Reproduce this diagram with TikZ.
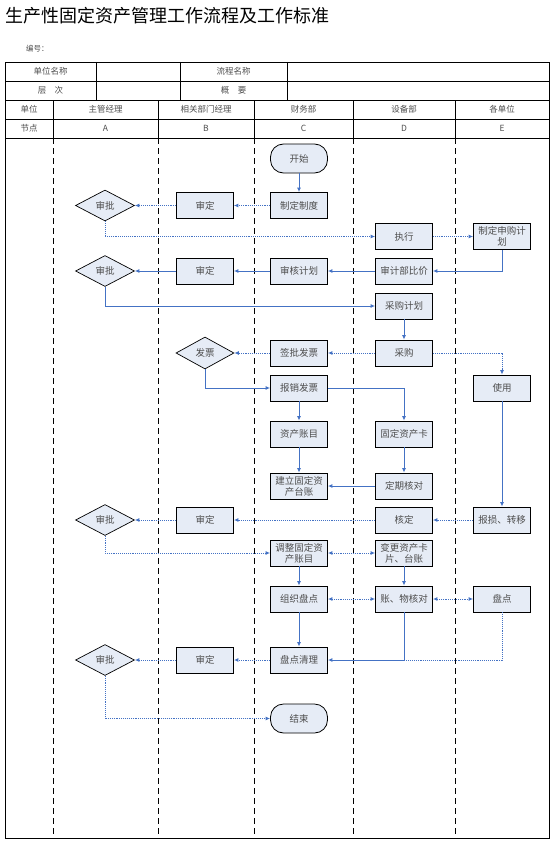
\documentclass[tikz,border=0pt]{standalone}
\usepackage{fontspec}
\setmainfont{Noto Sans CJK SC}
\usetikzlibrary{shapes.geometric,arrows.meta}
\definecolor{boxfill}{HTML}{E6ECF6}
\definecolor{linkblue}{HTML}{4472C4}
\definecolor{txtgray}{HTML}{4D4D4D}

\begin{document}
\begin{tikzpicture}[x=1pt, y=-1pt, >={Latex[length=4.5pt,width=4pt]},
    box/.style={draw=black, line width=0.8pt, fill=boxfill, minimum width=57pt,
      minimum height=26pt, inner sep=1pt, align=center, text=txtgray,
      font=\fontsize{9.5}{11}\selectfont},
    decide/.style={diamond, draw=black, line width=0.7pt, fill=boxfill,
      minimum width=59pt, minimum height=31pt, inner sep=0pt, text=txtgray,
      font=\fontsize{9.5}{11}\selectfont},
    terminal/.style={rectangle, rounded corners=13pt, draw=black, line width=0.8pt,
      fill=boxfill, minimum width=57pt, minimum height=29pt, text=txtgray,
      font=\fontsize{9.5}{11}\selectfont},
    flow/.style={->, linkblue, line width=0.9pt},
    flowdot/.style={flow, densely dotted},
    lane/.style={line width=0.8pt, dash pattern=on 6pt off 4pt},
    grid/.style={line width=0.6pt},
    head/.style={text=txtgray, font=\fontsize{8.5}{10}\selectfont}]

    \useasboundingbox (0,0) rectangle (553,843);

    % 1. Tiêu đề
    \node[anchor=west, inner sep=0pt, font=\fontsize{18}{20}\selectfont] (title)
      at (5,16) {生产性固定资产管理工作流程及工作标准};
    \node[anchor=west, inner sep=0pt, head, font=\fontsize{7.5}{9}\selectfont] (code)
      at (26,49) {编号：};

    % 2. Khung bảng
    \draw[grid] (5,62) rectangle (549,838);
    \foreach \y in {81,100,119,138}
      \draw[grid] (5,\y) -- (549,\y);
    \foreach \x in {96,180,287}
      \draw[grid] (\x,62) -- (\x,100);
    \foreach \x in {53,158,254,353,455}
      \draw[grid] (\x,100) -- (\x,138);

    % 3. Các làn dọc
    \foreach \x in {53,158,254,353,455}
      \draw[lane] (\x,138) -- (\x,838);

    % 4. Chữ tiêu đề bảng
    \node[head] (hname) at (50.5,71.5) {单位名称};
    \node[head] (hflow) at (233.5,71.5) {流程名称};
    \node[head] (hlevel) at (50.5,90.5) {层\quad 次};
    \node[head] (hsum) at (233.5,90.5) {概\quad 要};
    \node[head] (hunit) at (29,109.5) {单位};
    \node[head] (hA) at (105.5,109.5) {主管经理};
    \node[head] (hB) at (206,109.5) {相关部门经理};
    \node[head] (hC) at (303.5,109.5) {财务部};
    \node[head] (hD) at (404,109.5) {设备部};
    \node[head] (hE) at (502,109.5) {各单位};
    \node[head] (hnode) at (29,128.5) {节点};
    \node[head] (nA) at (105.5,128.5) {A};
    \node[head] (nB) at (206,128.5) {B};
    \node[head] (nC) at (303.5,128.5) {C};
    \node[head] (nD) at (404,128.5) {D};
    \node[head] (nE) at (502,128.5) {E};

    % 5. Các bước
    \node[terminal] (start) at (299,158.5) {开始};
    \node[box] (zdzd) at (299,205.5) {制定制度};
    \node[box] (sd1) at (205,205.5) {审定};
    \node[decide] (sp1) at (105,205.5) {审批};
    \node[box] (zx) at (404,236.5) {执行};
    \node[box] (sgjh) at (502,236.5) {制定申购计\\划};
    \node[box] (shjh) at (299,271) {审核计划};
    \node[box] (sjbj) at (404,271) {审计部比价};
    \node[box] (sd2) at (205,271) {审定};
    \node[decide] (sp2) at (105,271) {审批};
    \node[box] (cgjh) at (404,306) {采购计划};
    \node[box] (cg) at (404,353) {采购};
    \node[box] (qpfp) at (299,353) {签批发票};
    \node[decide, minimum width=58pt, minimum height=32pt] (fp) at (205,353) {发票};
    \node[box] (sy) at (502,388) {使用};
    \node[box] (bxfp) at (299,388) {报销发票};
    \node[box] (zczm) at (299,434) {资产账目};
    \node[box] (gdzck) at (404,434) {固定资产卡};
    \node[box] (jltz) at (299,486) {建立固定资\\产台账};
    \node[box] (dqhd) at (404,486) {定期核对};
    \node[box] (hd) at (404,520) {核定};
    \node[box] (bszy) at (502,520) {报损、转移};
    \node[box] (sd3) at (205,520) {审定};
    \node[decide] (sp3) at (105,520) {审批};
    \node[box] (tzzm) at (299,553) {调整固定资\\产账目};
    \node[box] (bgkp) at (404,553) {变更资产卡\\片、台账};
    \node[box] (zzpd) at (299,599) {组织盘点};
    \node[box] (zwhd) at (404,599) {账、物核对};
    \node[box] (pd) at (502,599) {盘点};
    \node[box] (pdql) at (299,660) {盘点清理};
    \node[box] (sd4) at (205,660) {审定};
    \node[decide] (sp4) at (105,660) {审批};
    \node[terminal] (js) at (299,718.5) {结束};

    % 6. Mũi tên
    \draw[flow] (start) -- (zdzd);
    \draw[flowdot] (zdzd) -- (sd1);
    \draw[flowdot] (sd1) -- (sp1);
    \draw[flowdot] (sp1.south) |- (zx.west);
    \draw[flowdot] (zx) -- (sgjh);
    \draw[flow] (sgjh.south) |- (sjbj.east);
    \draw[flow] (sjbj) -- (shjh);
    \draw[flow] (shjh) -- (sd2);
    \draw[flow] (sd2) -- (sp2);
    \draw[flow] (sp2.south) |- (cgjh.west);
    \draw[flow] (cgjh) -- (cg);
    \draw[flowdot] (cg) -- (qpfp);
    \draw[flowdot] (cg.east) -| (sy.north);
    \draw[flowdot] (qpfp) -- (fp);
    \draw[flow] (fp.south) |- (bxfp.west);
    \draw[flow] (bxfp) -- (zczm);
    \draw[flow] (bxfp.east) -| (gdzck.north);
    \draw[flow] (zczm) -- (jltz);
    \draw[flow] (gdzck) -- (dqhd);
    \draw[flow] (dqhd) -- (jltz);
    \draw[flow] (sy) -- (bszy);
    \draw[flowdot] (bszy) -- (hd);
    \draw[flowdot] (hd) -- (sd3);
    \draw[flowdot] (sd3) -- (sp3);
    \draw[flowdot] (sp3.south) |- (tzzm.west);
    \draw[flowdot, <->] (tzzm) -- (bgkp);
    \draw[flow] (tzzm) -- (zzpd);
    \draw[flow] (bgkp) -- (zwhd);
    \draw[flowdot, <->] (zzpd) -- (zwhd);
    \draw[flowdot, <->] (zwhd) -- (pd);
    \draw[flow] (zzpd) -- (pdql);
    \draw[flowdot, -] (pd.south) |- (zwhd.south |- pdql.east);
    \draw[flow] (zwhd.south) |- (pdql.east);
    \draw[flowdot] (pdql) -- (sd4);
    \draw[flowdot] (sd4) -- (sp4);
    \draw[flowdot] (sp4.south) |- (js.west);

\end{tikzpicture}
\end{document}
